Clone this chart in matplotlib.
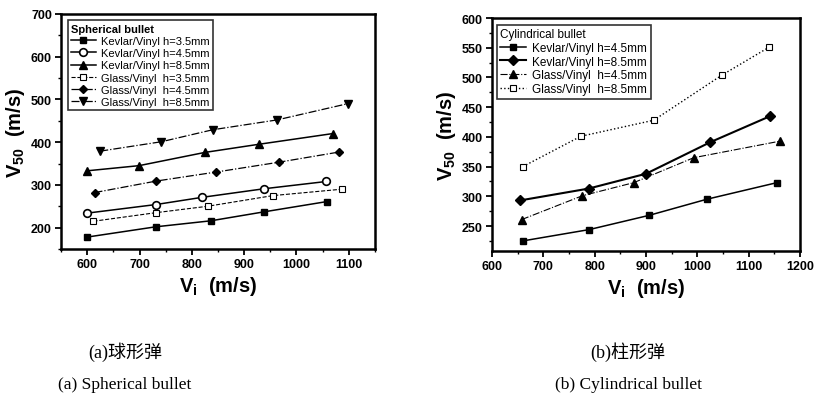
import matplotlib
matplotlib.use('Agg')
import matplotlib.pyplot as plt
from matplotlib.ticker import MultipleLocator

# (a) spherical bullet
SPH_K35_X = [600, 731, 836, 938, 1058]
SPH_K35_Y = [178, 202, 216, 237, 261]
SPH_K45_X = [600, 731, 820, 938, 1057]
SPH_K45_Y = [234, 254, 271, 291, 308]
SPH_K85_X = [600, 699, 825, 928, 1069]
SPH_K85_Y = [333, 345, 376, 395, 420]
SPH_G35_X = [612, 731, 830, 955, 1087]
SPH_G35_Y = [215, 235, 250, 275, 290]
SPH_G45_X = [614, 732, 846, 966, 1082]
SPH_G45_Y = [282, 309, 330, 353, 377]
SPH_G85_X = [625, 742, 840, 963, 1098]
SPH_G85_Y = [379, 401, 429, 452, 490]

# (b) cylindrical bullet
CYL_K45_X = [660, 789, 906, 1018, 1155]
CYL_K45_Y = [225, 244, 268, 295, 323]
CYL_K85_X = [654, 788, 900, 1025, 1142]
CYL_K85_Y = [293, 313, 338, 391, 435]
CYL_G45_X = [658, 776, 876, 993, 1162]
CYL_G45_Y = [261, 301, 323, 365, 393]
CYL_G85_X = [660, 773, 915, 1048, 1140]
CYL_G85_Y = [350, 401, 428, 504, 551]

SPH_LABELS = ['Kevlar/Vinyl h=3.5mm', 'Kevlar/Vinyl h=4.5mm', 'Kevlar/Vinyl h=8.5mm',
              'Glass/Vinyl  h=3.5mm', 'Glass/Vinyl  h=4.5mm', 'Glass/Vinyl  h=8.5mm']
CYL_LABELS = ['Kevlar/Vinyl h=4.5mm', 'Kevlar/Vinyl h=8.5mm',
              'Glass/Vinyl  h=4.5mm', 'Glass/Vinyl  h=8.5mm']

plt.rcParams['font.family'] = ['Liberation Sans', 'DejaVu Sans']
plt.rcParams['mathtext.fontset'] = 'custom'
plt.rcParams['mathtext.rm'] = 'Liberation Sans:bold'
plt.rcParams['mathtext.bf'] = 'Liberation Sans:bold'
plt.rcParams['mathtext.default'] = 'bf'


def style_axes(ax):
    for s in ax.spines.values():
        s.set_linewidth(1.8)
    ax.tick_params(which='major', direction='out', length=4, width=1.3, labelsize=9, pad=2.5)
    ax.tick_params(which='minor', direction='out', length=2, width=1.0)
    for lab in ax.get_xticklabels() + ax.get_yticklabels():
        lab.set_fontweight('bold')
    ax.set_xlabel(r'V$_\mathregular{i}$  (m/s)', fontsize=14.5, fontweight='bold', labelpad=3)
    ax.set_ylabel(r'V$_\mathregular{50}$  (m/s)', fontsize=14.5, fontweight='bold', labelpad=3)


fig = plt.figure(figsize=(8.18, 4.02), dpi=100)

ax1 = fig.add_axes([0.0746, 0.378, 0.3838, 0.585])
ax1.plot(SPH_K35_X, SPH_K35_Y, '-', color='k', marker='s', ms=5, lw=1.1, label=SPH_LABELS[0])
ax1.plot(SPH_K45_X, SPH_K45_Y, '-', color='k', marker='o', ms=5.5, mfc='white', mew=1.2, lw=1.1, label=SPH_LABELS[1])
ax1.plot(SPH_K85_X, SPH_K85_Y, '-', color='k', marker='^', ms=5.5, lw=1.1, label=SPH_LABELS[2])
ax1.plot(SPH_G35_X, SPH_G35_Y, '--', color='k', marker='s', ms=4.5, mfc='white', mew=0.8, lw=0.8, label=SPH_LABELS[3])
ax1.plot(SPH_G45_X, SPH_G45_Y, '-.', color='k', marker='D', ms=4.5, lw=0.9, label=SPH_LABELS[4])
ax1.plot(SPH_G85_X, SPH_G85_Y, '-.', color='k', marker='v', ms=5.5, lw=0.9, label=SPH_LABELS[5])
ax1.set_xlim(550, 1150)
ax1.set_ylim(150, 700)
ax1.xaxis.set_major_locator(MultipleLocator(100))
ax1.xaxis.set_minor_locator(MultipleLocator(50))
ax1.yaxis.set_major_locator(MultipleLocator(100))
ax1.yaxis.set_minor_locator(MultipleLocator(50))
style_axes(ax1)
leg1 = ax1.legend(loc='upper left', bbox_to_anchor=(0.022, 0.972), title='Spherical bullet',
                  alignment='left', fontsize=8, title_fontsize=8, frameon=True, fancybox=False,
                  edgecolor='k', handlelength=2.2, handletextpad=0.5, labelspacing=0.2,
                  borderpad=0.3, borderaxespad=0)
leg1.get_frame().set_linewidth(1.2)
leg1.get_title().set_fontweight('bold')

ax2 = fig.add_axes([0.6015, 0.3731, 0.3765, 0.5796])
ax2.plot(CYL_K45_X, CYL_K45_Y, '-', color='k', marker='s', ms=5, lw=1.1, label=CYL_LABELS[0])
ax2.plot(CYL_K85_X, CYL_K85_Y, '-', color='k', marker='D', ms=5, lw=1.5, label=CYL_LABELS[1])
ax2.plot(CYL_G45_X, CYL_G45_Y, '-.', color='k', marker='^', ms=5.5, lw=0.8, label=CYL_LABELS[2])
ax2.plot(CYL_G85_X, CYL_G85_Y, ':', color='k', marker='s', ms=4.5, mfc='white', mew=0.8, lw=1.0, label=CYL_LABELS[3])
ax2.set_xlim(600, 1200)
ax2.set_ylim(208, 600)
ax2.xaxis.set_major_locator(MultipleLocator(100))
ax2.xaxis.set_minor_locator(MultipleLocator(50))
ax2.yaxis.set_major_locator(MultipleLocator(50))
ax2.yaxis.set_minor_locator(MultipleLocator(25))
style_axes(ax2)
leg2 = ax2.legend(loc='upper left', bbox_to_anchor=(0.016, 0.972), title='Cylindrical bullet',
                  alignment='left', fontsize=8.5, title_fontsize=8.5, frameon=True, fancybox=False,
                  edgecolor='k', handlelength=2.2, handletextpad=0.5, labelspacing=0.15,
                  borderpad=0.3, borderaxespad=0)
leg2.get_frame().set_linewidth(1.2)

# captions
cap_font = ['Liberation Serif', 'Noto Sans CJK SC']
fig.text(0.153, 0.123, '(a)球形弹', ha='center', va='center', fontsize=13, family=cap_font)
fig.text(0.153, 0.043, '(a) Spherical bullet', ha='center', va='center', fontsize=12.5, family=cap_font)
fig.text(0.768, 0.123, '(b)柱形弹', ha='center', va='center', fontsize=13, family=cap_font)
fig.text(0.768, 0.043, '(b) Cylindrical bullet', ha='center', va='center', fontsize=12.5, family=cap_font)

fig.savefig('out.png', dpi=100)
plt.close('all')
